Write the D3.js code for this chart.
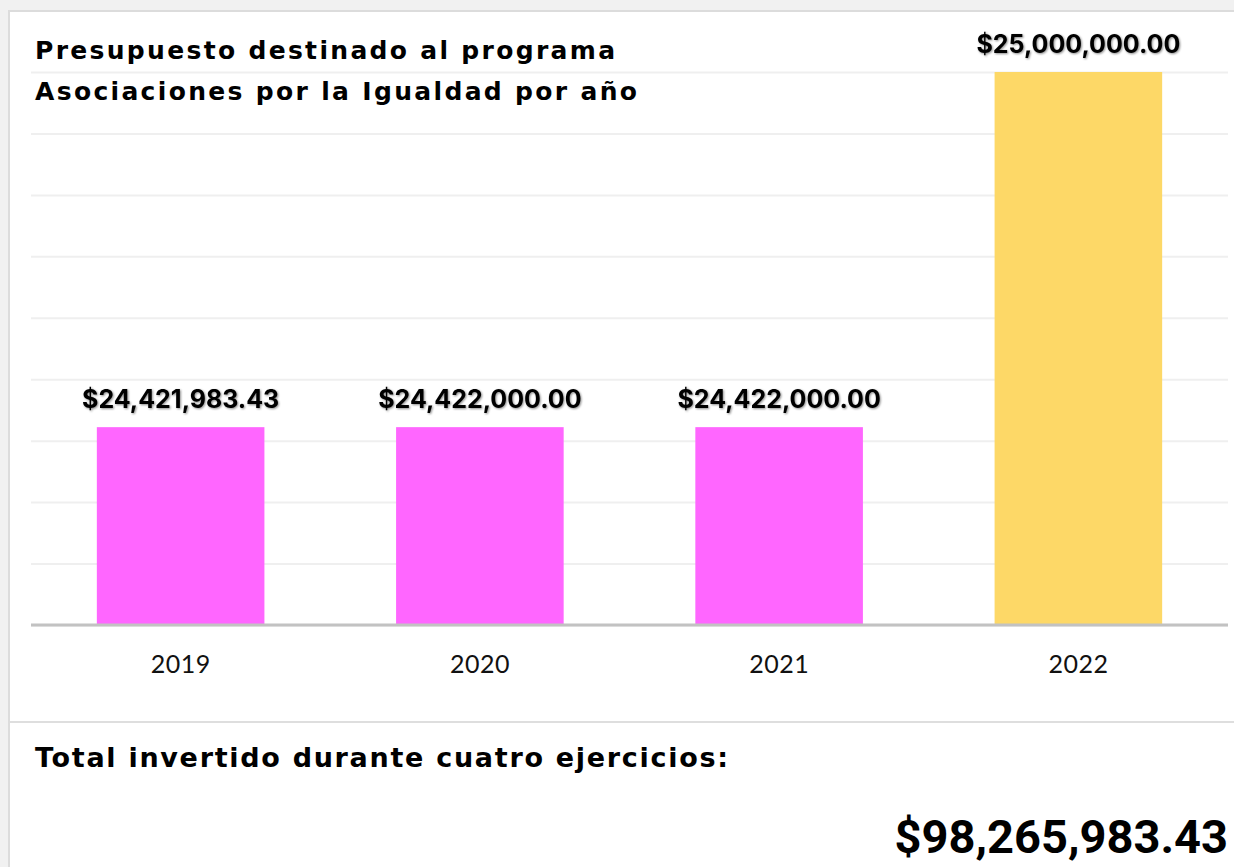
<!DOCTYPE html>
<html>
<head>
<meta charset="utf-8">
<script src="https://cdn.jsdelivr.net/npm/d3@7"></script>
<style>
  html, body { margin: 0; padding: 0; background: #f1f1f1; }
  #chart { width: 1234px; height: 867px; overflow: hidden; }
</style>
</head>
<body>
<div id="chart"></div>
<script>
// data
const years = ["2019", "2020", "2021", "2022"];
const amounts = [24421983.43, 24422000.00, 24422000.00, 25000000.00];
const barColors = ["#ff66ff", "#ff66ff", "#ff66ff", "#fdd867"];
const yDomain = [24100000, 25000000];
const titleLines = ["Presupuesto destinado al programa", "Asociaciones por la Igualdad por año"];
const titleWidths = [580, 602];
const totalLabel = "Total invertido durante cuatro ejercicios:";

const width = 1234, height = 867;
const plot = { left: 31, right: 1228, top: 72, bottom: 625 };

const money = v => "$" + d3.format(",.2f")(v);

const svg = d3.select("#chart").append("svg")
  .attr("width", width).attr("height", height);

// soft shadow used by the value labels
const defs = svg.append("defs");
defs.append("filter").attr("id", "shadow")
  .attr("x", "-5%").attr("y", "-20%").attr("width", "110%").attr("height", "140%")
  .append("feDropShadow")
  .attr("dx", 1).attr("dy", 1).attr("stdDeviation", 1)
  .attr("flood-color", "#000").attr("flood-opacity", 0.45);

// white card
svg.append("rect")
  .attr("x", 9).attr("y", 11).attr("width", 1240).attr("height", 880)
  .attr("fill", "#fff").attr("stroke", "#dcdcdc").attr("stroke-width", 2);

const x = d3.scaleBand()
  .domain(years)
  .range([plot.left, plot.right])
  .paddingInner(0.44)
  .paddingOuter(0.22);

const y = d3.scaleLinear()
  .domain(yDomain)
  .range([plot.bottom, plot.top]);

// gridlines
svg.append("g")
  .attr("transform", `translate(${plot.left},0)`)
  .call(d3.axisLeft(y).ticks(9).tickSize(-(plot.right - plot.left)).tickFormat(""))
  .call(g => g.select(".domain").remove())
  .call(g => g.selectAll(".tick line").attr("stroke", "#efefef").attr("stroke-width", 2));

// title
svg.append("g").selectAll("text")
  .data(titleLines)
  .enter().append("text")
  .attr("x", 35)
  .attr("y", (d, i) => 59 + i * 41)
  .attr("font-family", "'DejaVu Sans', sans-serif")
  .attr("font-weight", 700)
  .attr("font-size", 25)
  .attr("textLength", (d, i) => titleWidths[i])
  .attr("lengthAdjust", "spacing")
  .attr("fill", "#000")
  .text(d => d);

const rows = years.map((yr, i) => ({ year: yr, value: amounts[i], color: barColors[i] }));

// bars
svg.append("g").selectAll("rect")
  .data(rows)
  .enter().append("rect")
  .attr("x", d => x(d.year))
  .attr("y", d => y(d.value))
  .attr("width", x.bandwidth())
  .attr("height", d => y(yDomain[0]) - y(d.value))
  .attr("fill", d => d.color);

// value labels
svg.append("g").selectAll("text")
  .data(rows)
  .enter().append("text")
  .attr("x", d => x(d.year) + x.bandwidth() / 2)
  .attr("y", d => y(d.value) - 19)
  .attr("text-anchor", "middle")
  .attr("font-family", "Inter, sans-serif")
  .attr("font-weight", 700)
  .attr("font-size", 25)
  .attr("fill", "#000")
  .attr("filter", "url(#shadow)")
  .text(d => money(d.value));

// x axis
const xAxis = svg.append("g")
  .attr("transform", `translate(0,${plot.bottom})`)
  .call(d3.axisBottom(x).tickSize(0).tickPadding(30));
xAxis.select(".domain")
  .attr("d", `M${plot.left},0H${plot.right}`)
  .attr("stroke", "#c2c2c2").attr("stroke-width", 3);
xAxis.selectAll(".tick text")
  .attr("font-family", "Lato, sans-serif")
  .attr("font-size", 25)
  .attr("letter-spacing", 0.5)
  .attr("fill", "#111");

// divider and total
svg.append("line")
  .attr("x1", 10).attr("x2", width)
  .attr("y1", 722).attr("y2", 722)
  .attr("stroke", "#dedede").attr("stroke-width", 2);

svg.append("text")
  .attr("x", 35).attr("y", 767)
  .attr("font-family", "'DejaVu Sans', sans-serif")
  .attr("font-weight", 700)
  .attr("font-size", 27)
  .attr("textLength", 693)
  .attr("lengthAdjust", "spacing")
  .attr("fill", "#000")
  .text(totalLabel);

svg.append("text")
  .attr("x", 1228).attr("y", 853)
  .attr("text-anchor", "end")
  .attr("font-family", "Roboto, sans-serif")
  .attr("font-weight", 700)
  .attr("font-size", 47)
  .attr("fill", "#000")
  .text(money(d3.sum(amounts)));
</script>
</body>
</html>
